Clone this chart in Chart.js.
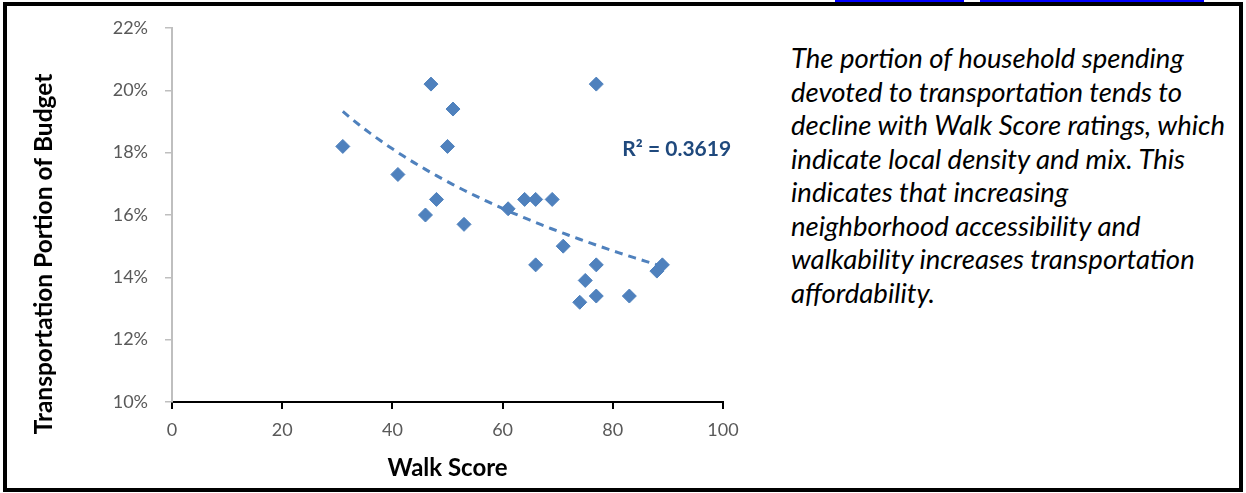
<!DOCTYPE html>
<html lang="en">
<head>
  <meta charset="UTF-8" />
  <title>Walk Score vs Transportation Spending</title>
  <style>
    body {
      margin: 0;
      width: 1246px;
      height: 493px;
      background: #fff;
      position: relative;
      overflow: hidden;
      font-family: Lato, "Open Sans", sans-serif;
    }
    #frame {
      position: absolute;
      left: 3px;
      top: 2px;
      width: 1232px;
      height: 482px;
      border: 4px solid #000;
    }
    .cut {
      position: absolute;
      top: 0;
      height: 3px;
      background: #0000ff;
    }
    #chartBox {
      position: absolute;
      left: 0;
      top: 0;
      width: 760px;
      height: 493px;
    }
    #note {
      position: absolute;
      left: 791px;
      top: 41px;
      font-family: Lato, sans-serif;
      font-style: italic;
      font-size: 27.5px;
      line-height: 33.5px;
      color: #000;
      white-space: nowrap;
    }
  </style>
</head>
<body>
  <div class="cut" style="left:835px;width:129px"></div>
  <div class="cut" style="left:980px;width:224px"></div>
  <div id="frame"></div>

  <div id="chartBox">
    <canvas id="walkChart" width="760" height="493"></canvas>
  </div>

  <div id="note">The portion of household spending<br>devoted to transportation tends to<br>decline with Walk Score ratings, which<br>indicate local density and mix. This<br>indicates that increasing<br>neighborhood accessibility and<br>walkability increases transportation<br>affordability.</div>

  <script src="https://cdn.jsdelivr.net/npm/chart.js"></script>
  <script>
    // Walk Score of each city and the transportation share of its budget (%)
    const walkScores = [31, 41, 47, 51, 50, 48, 46, 53, 61, 64, 66, 69, 71, 66, 77, 75, 74, 77, 83, 88, 89, 77];
    const transportShare = [18.2, 17.3, 20.2, 19.4, 18.2, 16.5, 16.0, 15.7, 16.2, 16.5, 16.5, 16.5, 15.0, 14.4, 14.4, 13.9, 13.2, 13.4, 13.4, 14.2, 14.4, 20.2];
    const xTicks = [0, 20, 40, 60, 80, 100];
    const yTicks = [10, 12, 14, 16, 18, 20, 22];
    const rSquaredText = 'R\u00B2 = 0.3619';
    const yTitle = 'Transportation Portion of Budget';

    const blue = '#4f81bd';

    // logarithmic trendline (least squares on ln x), like the Excel one
    const lnX = walkScores.map(v => Math.log(v));
    const mL = lnX.reduce((a, b) => a + b, 0) / lnX.length;
    const mY = transportShare.reduce((a, b) => a + b, 0) / transportShare.length;
    let sxy = 0, sxx = 0;
    lnX.forEach((l, i) => { sxy += (l - mL) * (transportShare[i] - mY); sxx += (l - mL) * (l - mL); });
    const slope = sxy / sxx;
    const icpt = mY - slope * mL;
    const xMin = Math.min(...walkScores), xMax = Math.max(...walkScores);
    const trend = [];
    for (let x = xMin; x <= xMax; x += 1) trend.push({ x, y: icpt + slope * Math.log(x) });

    const points = walkScores.map((x, i) => ({ x, y: transportShare[i] }));

    // R² text and the y title (Excel centres it a bit lower than the plot area)
    const extraText = {
      id: 'extraText',
      afterDatasetsDraw(chart) {
        const { ctx, scales } = chart;
        ctx.save();
        ctx.font = 'bold 21px Lato, sans-serif';
        ctx.fillStyle = '#1f497d';
        ctx.textAlign = 'center';
        ctx.textBaseline = 'middle';
        ctx.fillText(rSquaredText, scales.x.getPixelForValue(91.6), scales.y.getPixelForValue(18.1));

        ctx.font = 'bold 24.5px Lato, sans-serif';
        ctx.fillStyle = '#000';
        ctx.translate(44, scales.y.getPixelForValue(14.75));
        ctx.rotate(-Math.PI / 2);
        ctx.fillText(yTitle, 0, 0);
        ctx.restore();
      }
    };

    const ctx = document.getElementById('walkChart').getContext('2d');
    new Chart(ctx, {
      type: 'scatter',
      data: {
        datasets: [
          {
            label: 'Cities',
            data: points,
            pointStyle: 'rectRot',
            pointRadius: 7,
            pointHoverRadius: 7,
            backgroundColor: blue,
            borderColor: blue,
            borderWidth: 1
          },
          {
            label: 'Trend',
            data: trend,
            showLine: true,
            pointRadius: 0,
            borderColor: blue,
            borderWidth: 3,
            borderDash: [8, 6],
            fill: false
          }
        ]
      },
      options: {
        responsive: false,
        animation: false,
        layout: { padding: { left: 30, top: 28, right: 37, bottom: 10 } },
        plugins: { legend: { display: false }, tooltip: { enabled: false } },
        scales: {
          x: {
            type: 'linear',
            min: 0,
            max: 100,
            afterBuildTicks: s => { s.ticks = xTicks.map(v => ({ value: v })); },
            afterFit: s => { s.height = 81; },
            grid: { drawOnChartArea: false, drawTicks: true, tickLength: 7, color: '#000', lineWidth: 2 },
            border: { color: '#000', width: 2 },
            ticks: { color: '#595959', padding: 10, font: { family: 'Lato', size: 18 } },
            title: { display: true, text: 'Walk Score', color: '#000', padding: 0, font: { family: 'Lato', size: 24, weight: 'bold' } }
          },
          y: {
            min: 10,
            max: 22,
            afterBuildTicks: s => { s.ticks = yTicks.map(v => ({ value: v })); },
            afterFit: s => { s.width = 142; },
            grid: { drawOnChartArea: false, drawTicks: true, tickLength: 7, color: '#bfbfbf', lineWidth: 1.5 },
            border: { color: '#bfbfbf', width: 2 },
            ticks: { color: '#595959', padding: 17, callback: v => v + '%', font: { family: 'Lato', size: 18 } },
            title: { display: false }
          }
        }
      },
      plugins: [extraText]
    });
  </script>
</body>
</html>
